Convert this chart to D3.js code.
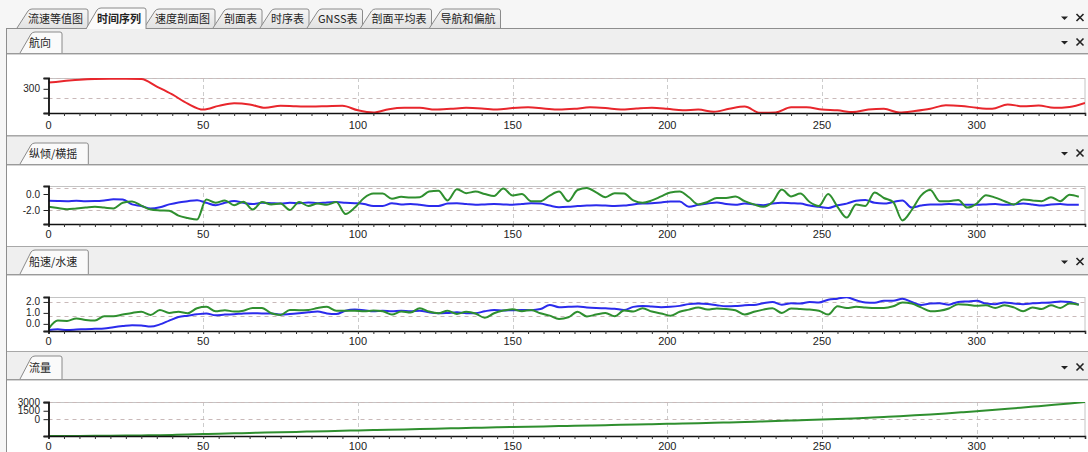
<!DOCTYPE html>
<html>
<head>
<meta charset="utf-8">
<script src="https://cdn.jsdelivr.net/npm/d3@7"></script>
<style>
html, body { margin: 0; padding: 0; background: #fff; overflow: hidden; }
svg { display: block; }
.num { font-family: "Liberation Sans", Arial, sans-serif; font-size: 11px; fill: #222; }
.ynum { font-family: "Liberation Sans", Arial, sans-serif; font-size: 10px; fill: #222; }
.cjk { font-family: "Noto Sans CJK SC", sans-serif; font-size: 11px; fill: #222; }
</style>
</head>
<body>
<svg id="chart" width="1088" height="452"></svg>
<script>
// ---- labels ----
const mainTabs = ["流速等值图", "时间序列", "速度剖面图", "剖面表", "时序表", "GNSS表", "剖面平均表", "导航和偏航"];
const activeTab = "时间序列";
const panelTitles = ["航向", "纵倾/横摇", "船速/水速", "流量"];
const xLabelTicks = [0, 50, 100, 150, 200, 250, 300];

// ---- series (ensemble spacing: heading & discharge every 5, attitude & speeds every 3) ----
const coarseStep = 5;
const fineStep = 3;

// heading, degrees
const heading = [342, 352, 362, 367, 368, 368, 366, 315, 262, 200,
  160, 185, 203, 195, 172, 186, 182, 180, 183, 186,
  155, 140, 163, 172, 172, 160, 165, 172, 168, 160,
  170, 175, 168, 160, 165, 175, 170, 160, 167, 172,
  165, 155, 160, 145, 165, 180, 138, 140, 175, 175,
  160, 155, 143, 160, 165, 140, 150, 165, 190, 185,
  172, 165, 195, 182, 188, 172, 178, 205];

// pitch (blue) and roll (green), degrees
const pitch = [-0.85, -0.88, -0.9, -0.85, -0.9, -0.88, -0.8, -0.66, -0.7, -1.3,
  -1.5, -1.8, -1.65, -1.3, -1.05, -0.9, -0.78, -1.1, -1.4, -1.1,
  -0.88, -1.1, -1.25, -1.1, -1.15, -1.2, -1.1, -1.17, -1.05, -1.15,
  -1.05, -1.0, -1.1, -1.15, -1.25, -1.5, -1.5, -1.15, -1.3, -1.25,
  -1.35, -1.5, -1.5, -1.2, -1.15, -1.25, -1.35, -1.3, -1.25, -1.3,
  -1.35, -1.25, -1.15, -1.2, -1.45, -1.65, -1.6, -1.5, -1.45, -1.4,
  -1.45, -1.5, -1.45, -1.3, -1.2, -1.15, -1.05, -0.95, -0.95, -1.6,
  -1.35, -1.2, -1.05, -1.25, -1.35, -1.2, -1.3, -1.4, -1.2, -1.1,
  -1.15, -1.2, -1.45, -1.6, -1.75, -1.4, -1.2, -0.85, -0.75, -1.1,
  -1.2, -1.0, -0.8, -1.7, -1.45, -1.3, -1.3, -1.25, -1.3, -1.35,
  -1.35, -1.3, -1.25, -1.35, -1.3, -1.2, -1.3, -1.45, -1.3, -1.25,
  -1.35, -1.35];
const roll = [-1.58, -1.75, -1.9, -1.8, -1.7, -1.6, -1.7, -1.8, -1.1, -0.95,
  -1.45, -1.95, -2.05, -2.1, -2.7, -3.0, -3.2, -0.7, -1.1, -0.8,
  -1.4, -0.96, -1.95, -1.0, -1.3, -1.2, -2.0, -1.0, -1.5, -1.2,
  -1.35, -1.0, -2.5, -1.7, -0.5, 0.05, 0.05, -0.6, -0.35, -0.45,
  -0.4, 0.3, 0.4, -0.8, 0.6, 0.1, 0.3, 0.0, -0.25, 0.7,
  -0.2, 0.0, -0.9, -0.9, -0.2, 0.3, -0.9, 0.5, 0.75, 0.2,
  -0.4, 0.1, 0.05, -0.8, -1.1, -0.8, -0.3, 0.2, 0.3, -0.4,
  -1.3, -1.0, -0.5, -0.5, -0.3, -0.9, -1.3, -1.6, -1.0, 0.55,
  -0.3, 0.05, -1.0, -1.5, 0.0, -1.6, -2.95, -1.3, -1.5, 0.2,
  -0.5, -1.0, -3.3, -2.0, -0.2, 0.5, -0.9, -0.9, -0.75, -1.7,
  -1.2, -0.15, -0.45, -0.9, -1.3, -0.7, -0.8, -0.9, -0.4, -0.9,
  -0.1, -0.35];

// boat speed (blue) and water speed (green), m/s
const boatSpeed = [-0.55, -0.5, -0.55, -0.52, -0.48, -0.45, -0.42, -0.3, -0.2, -0.12,
  -0.15, -0.25, -0.05, 0.3, 0.62, 0.75, 0.88, 0.95, 0.78, 0.85,
  0.88, 0.95, 0.97, 0.95, 0.95, 0.85, 0.9, 0.97, 1.05, 1.12,
  0.95, 0.9, 1.2, 1.3, 1.25, 1.15, 1.2, 1.15, 1.2, 1.15,
  1.2, 1.05, 0.97, 1.0, 1.05, 0.97, 0.97, 1.15, 1.27, 1.21,
  1.25, 1.27, 1.25, 1.35, 1.73, 1.52, 1.55, 1.58, 1.5, 1.45,
  1.42, 1.38, 1.27, 1.55, 1.64, 1.58, 1.52, 1.55, 1.64, 1.8,
  1.85, 1.82, 1.7, 1.6, 1.62, 1.7, 1.73, 1.88, 2.0, 1.75,
  1.88, 1.85, 2.0, 1.95, 2.2, 2.3, 2.42, 2.15, 1.95, 1.92,
  2.1, 2.1, 2.3, 2.0, 1.73, 1.85, 1.88, 1.75, 2.0, 2.05,
  2.1, 1.85, 1.8, 1.95, 1.85, 1.8, 1.88, 1.92, 1.95, 2.05,
  2.0, 1.75];
const waterSpeed = [-0.45, 0.3, 0.27, 0.5, 0.36, 0.3, 0.7, 0.7, 0.85, 1.0,
  1.1, 0.82, 1.27, 1.0, 1.1, 0.97, 1.42, 1.55, 1.15, 1.25,
  1.12, 1.2, 1.45, 1.45, 0.97, 0.82, 1.27, 1.25, 1.27, 1.45,
  1.55, 1.2, 1.2, 1.2, 1.15, 1.21, 1.15, 0.85, 1.12, 1.03,
  1.42, 1.12, 0.97, 1.2, 0.91, 1.1, 0.95, 0.55, 0.97, 1.21,
  1.33, 1.15, 1.27, 0.97, 0.75, 0.45, 0.6, 1.1, 0.67, 0.85,
  1.0, 0.7, 1.21, 1.12, 1.42, 1.12, 0.95, 0.75, 1.1, 1.3,
  1.5, 1.3, 1.4, 1.35, 1.25, 0.85, 1.1, 1.3, 1.42, 1.0,
  1.4, 1.35, 1.3, 1.2, 0.85, 1.6, 1.45, 1.55, 1.5, 1.45,
  1.45, 1.6, 1.95, 1.85, 1.5, 1.15, 1.2, 1.4, 1.8, 1.75,
  1.65, 1.7, 1.45, 1.7, 1.5, 1.15, 1.5, 1.35, 1.7, 1.45,
  1.85, 1.75];

// cumulative discharge, m³/s
const discharge = [-3000, -2995, -2985, -2970, -2950, -2925, -2895, -2860, -2800, -2730,
  -2660, -2590, -2525, -2460, -2395, -2330, -2265, -2200, -2135, -2070,
  -2005, -1945, -1880, -1820, -1760, -1700, -1640, -1580, -1520, -1460,
  -1400, -1345, -1290, -1235, -1180, -1125, -1065, -1005, -945, -885,
  -830, -770, -710, -650, -585, -520, -420, -335, -250, -160,
  -70, 30, 140, 260, 390, 530, 680, 850, 1030, 1220,
  1420, 1630, 1850, 2080, 2320, 2560, 2800, 3050];

// y-axis ticks per panel
const headingTicks = [300, 240];
const headingTickLabels = ["300", ""];
const attitudeTicks = [0, -2];
const attitudeTickLabels = ["0.0", "-2.0"];
const speedTicks = [2, 1, 0];
const speedTickLabels = ["2.0", "1.0", "0.0"];
const dischargeTicks = [3000, 1500, 0];
const dischargeTickLabels = ["3000", "1500", "0"];

const RED = "#e8262c", BLUE = "#2b2bec", GREEN = "#2f8f2f";

// ---- panel layout ----
const W = 1088, H = 452;
const plotLeft = 48.5, plotRight = 1085;
const panels = [
  { title: panelTitles[0], hTop: 29, hBottom: 53, tabTop: 32, bodyBottom: 135, plotTop: 78, plotBottom: 113, labelGap: 15.5,
    domain: [137, 373], ticks: headingTicks, tickLabels: headingTickLabels, grid: [240, 373],
    series: [{ values: heading, step: coarseStep, color: RED }] },
  { title: panelTitles[1], hTop: 137, hBottom: 164, tabTop: 143, bodyBottom: 246, plotTop: 186, plotBottom: 224, labelGap: 14,
    domain: [-3.75, 1.0], ticks: attitudeTicks, tickLabels: attitudeTickLabels, grid: [-2, 0.8],
    series: [{ values: pitch, step: fineStep, color: BLUE }, { values: roll, step: fineStep, color: GREEN }] },
  { title: panelTitles[2], hTop: 247, hBottom: 274, tabTop: 250, bodyBottom: 351, plotTop: 297, plotBottom: 331, labelGap: 14,
    domain: [-0.65, 2.45], ticks: speedTicks, tickLabels: speedTickLabels, grid: [2, 0.68],
    series: [{ values: boatSpeed, step: fineStep, color: BLUE }, { values: waterSpeed, step: fineStep, color: GREEN }] },
  { title: panelTitles[3], hTop: 352, hBottom: 379, tabTop: 356, bodyBottom: 452, plotTop: 402, plotBottom: 436, labelGap: 13.5,
    domain: [-3000, 3060], ticks: dischargeTicks, tickLabels: dischargeTickLabels, grid: [3000, 0],
    series: [{ values: discharge, step: coarseStep, color: GREEN }] }
];

const svg = d3.select("#chart");
const defs = svg.append("defs");
const grad = defs.append("linearGradient").attr("id", "tabGrad").attr("x1", 0).attr("y1", 0).attr("x2", 0).attr("y2", 1);
grad.append("stop").attr("offset", "0%").attr("stop-color", "#f6f6f6");
grad.append("stop").attr("offset", "100%").attr("stop-color", "#e2e2e2");

svg.append("rect").attr("width", W).attr("height", H).attr("fill", "#f6f6f6");

// tab with a slanted left edge
function tabPath(x0, x1, top, bottom) {
  const p = d3.path();
  p.moveTo(x0 - 9, bottom);
  p.lineTo(x0 + 2, top + 2);
  p.quadraticCurveTo(x0 + 3.5, top, x0 + 6, top);
  p.lineTo(x1 - 2, top);
  p.quadraticCurveTo(x1, top, x1, top + 2);
  p.lineTo(x1, bottom);
  return p.toString();
}

function dropClose(g, cy) {
  g.append("path")
    .attr("d", `M1061,${cy - 1.5} L1068,${cy - 1.5} L1064.5,${cy + 2} Z`)
    .attr("fill", "#222");
  g.append("path")
    .attr("d", `M1076.5,${cy - 4} L1083.5,${cy + 3} M1083.5,${cy - 4} L1076.5,${cy + 3}`)
    .attr("stroke", "#222").attr("stroke-width", 1.6).attr("fill", "none");
}

// ---- main tab strip ----
const strip = svg.append("g");
const stripTop = 8, stripBottom = 28;
strip.append("line").attr("x1", 6).attr("x2", W).attr("y1", stripBottom + 0.5).attr("y2", stripBottom + 0.5)
  .attr("stroke", "#8e8e8e");
const tabInfo = [];
let tx = 28;
mainTabs.forEach(name => {
  const active = name === activeTab;
  const t = strip.append("text").attr("class", "cjk").attr("x", tx).attr("y", 22)
    .style("font-weight", active ? "bold" : "normal").text(name);
  const w = t.node().getComputedTextLength();
  t.remove();
  tabInfo.push({ name, x: tx, right: tx + w + 5, active });
  tx = tx + w + 14;
});
tabInfo.filter(d => !d.active).concat(tabInfo.filter(d => d.active)).forEach(d => {
  strip.append("path").attr("d", tabPath(d.x - 2, d.right, stripTop + (d.active ? 0 : 1), stripBottom + (d.active ? 1 : 0)))
    .attr("fill", d.active ? "#fbfbfb" : "url(#tabGrad)")
    .attr("stroke", "#8a8a8a").attr("stroke-width", 1);
  strip.append("text").attr("class", "cjk").attr("x", d.x).attr("y", 22.5)
    .style("font-weight", d.active ? "bold" : "normal").text(d.name);
});
dropClose(strip, 18);

// left frame edge
svg.append("line").attr("x1", 6.5).attr("x2", 6.5).attr("y1", 29).attr("y2", H)
  .attr("stroke", "#8e8e8e");

const x = d3.scaleLinear().domain([0, 335]).range([plotLeft, plotRight]);
const minorTicks = d3.range(0, 336, 5);

panels.forEach((p, i) => {
  const g = svg.append("g");

  // header bar with its tab
  g.append("rect").attr("x", 7).attr("y", p.hTop).attr("width", W - 7).attr("height", p.hBottom - p.hTop)
    .attr("fill", "#efefef");
  g.append("line").attr("x1", 7).attr("x2", W).attr("y1", p.hBottom + 0.5).attr("y2", p.hBottom + 0.5)
    .attr("stroke", "#9a9a9a");
  g.append("line").attr("x1", 7).attr("x2", W).attr("y1", p.hBottom + 1.5).attr("y2", p.hBottom + 1.5)
    .attr("stroke", "#d4d4d4");
  const tt = g.append("text").attr("class", "cjk").attr("x", 29).attr("y", (p.tabTop + p.hBottom) / 2 + 4)
    .text(p.title);
  const tw = tt.node().getComputedTextLength();
  tt.remove();
  g.append("path").attr("d", tabPath(29, 29 + tw + 11, p.tabTop, p.hBottom))
    .attr("fill", "#fafafa").attr("stroke", "#8a8a8a");
  g.append("text").attr("class", "cjk").attr("x", 29).attr("y", (p.tabTop + p.hBottom) / 2 + 4)
    .text(p.title);
  dropClose(g, (p.tabTop + p.hBottom) / 2);

  // white body
  g.append("rect").attr("x", 7).attr("y", p.hBottom + 2).attr("width", W - 7)
    .attr("height", p.bodyBottom - p.hBottom - 2).attr("fill", "#ffffff");
  if (i < panels.length - 1) {
    g.append("line").attr("x1", 7).attr("x2", W).attr("y1", p.bodyBottom + 0.5).attr("y2", p.bodyBottom + 0.5)
      .attr("stroke", "#a8a8a8");
    g.append("line").attr("x1", 7).attr("x2", W).attr("y1", p.bodyBottom + 1.5).attr("y2", p.bodyBottom + 1.5)
      .attr("stroke", "#c8c8c8");
  }

  const y = d3.scaleLinear().domain(p.domain).range([p.plotBottom, p.plotTop]);

  // plot frame
  g.append("rect").attr("x", plotLeft).attr("y", p.plotTop + 0.5)
    .attr("width", plotRight - plotLeft).attr("height", p.plotBottom - p.plotTop)
    .attr("fill", "none").attr("stroke", "#c4c4c4");

  // dashed grid
  g.selectAll(null).data(xLabelTicks.filter(v => v > 0)).join("line")
    .attr("x1", d => Math.round(x(d)) + 0.5).attr("x2", d => Math.round(x(d)) + 0.5)
    .attr("y1", p.plotTop).attr("y2", p.plotBottom)
    .attr("stroke", "#cccccc").attr("stroke-dasharray", "4,3");
  g.selectAll(null).data(p.grid).join("line")
    .attr("x1", plotLeft).attr("x2", plotRight)
    .attr("y1", d => Math.round(y(d)) + 0.5).attr("y2", d => Math.round(y(d)) + 0.5)
    .attr("stroke", "#c9b9b9").attr("stroke-dasharray", "4,4");

  // data lines
  const clipId = "clip" + i;
  defs.append("clipPath").attr("id", clipId).append("rect")
    .attr("x", plotLeft).attr("y", p.plotTop).attr("width", plotRight - plotLeft).attr("height", p.plotBottom - p.plotTop);
  p.series.forEach(s => {
    const line = d3.line()
      .x((d, k) => x(k * s.step))
      .y(d => y(d))
      .curve(d3.curveMonotoneX);
    g.append("path").attr("clip-path", `url(#${clipId})`)
      .attr("d", line(s.values))
      .attr("fill", "none").attr("stroke", s.color).attr("stroke-width", 2)
      .attr("stroke-linejoin", "round");
  });

  // x axis
  const xAxis = d3.axisBottom(x).tickValues(minorTicks).tickSize(3).tickFormat("");
  const xa = g.append("g").attr("transform", `translate(0,${p.plotBottom})`).call(xAxis);
  xa.select(".domain").attr("stroke", "#111").attr("stroke-width", 1.5);
  xa.selectAll(".tick line").attr("stroke", "#333");
  g.selectAll(null).data(xLabelTicks).join("text").attr("class", "num")
    .attr("x", d => x(d)).attr("y", p.plotBottom + p.labelGap).attr("text-anchor", "middle")
    .text(d => d);

  // y axis
  const yAxis = d3.axisLeft(y).tickValues(p.ticks.concat(p.domain)).tickSize(5).tickFormat("");
  const ya = g.append("g").attr("transform", `translate(${plotLeft},0)`).call(yAxis);
  ya.select(".domain").attr("stroke", "#111").attr("stroke-width", 1.8);
  ya.selectAll(".tick line").attr("stroke", "#222");
  g.selectAll(null).data(p.ticks).join("text").attr("class", "ynum")
    .attr("x", 40).attr("y", d => y(d) + 3.5).attr("text-anchor", "end")
    .text((d, k) => p.tickLabels[k]);
});
</script>
</body>
</html>
